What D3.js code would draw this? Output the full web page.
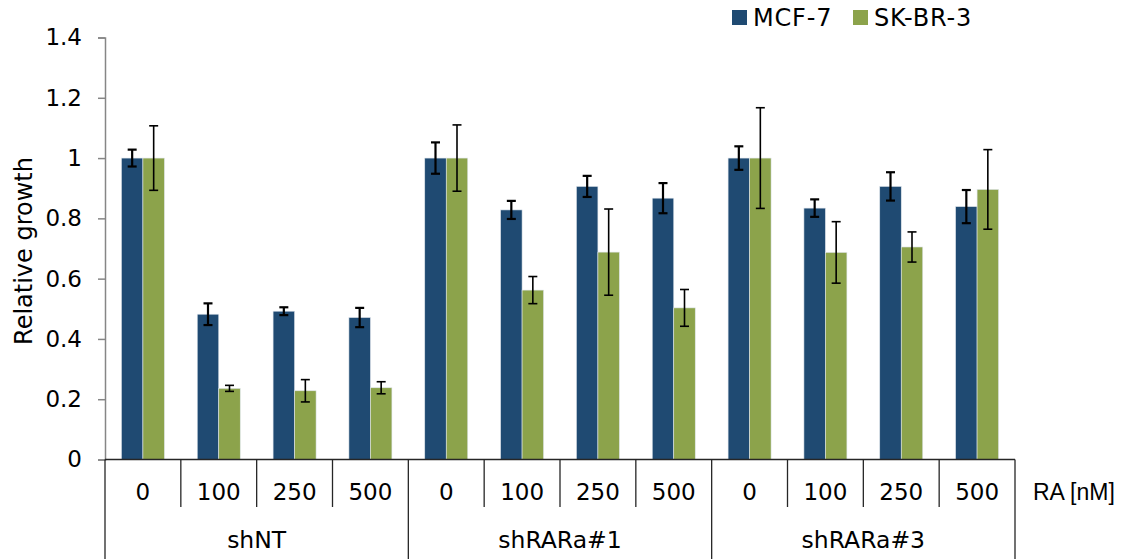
<!DOCTYPE html>
<html>
<head>
<meta charset="utf-8">
<script src="https://cdn.jsdelivr.net/npm/d3@7"></script>
<style>
  body { margin: 0; background: #fff; }
  text { font-family: "DejaVu Sans", Verdana, sans-serif; fill: #000; }
</style>
</head>
<body>
<div class="chart"></div>
<script>
// data
var groups = ["shNT", "shRARa#1", "shRARa#3"];
var doses = ["0", "100", "250", "500"];
var seriesNames = ["MCF-7", "SK-BR-3"];
var seriesColors = ["#1f4a72", "#8ca34b"];
var mcf7 = [1.0, 0.482, 0.492, 0.471, 1.0, 0.828, 0.906, 0.867, 1.0, 0.834, 0.906, 0.839];
var mcf7Err = [0.028, 0.036, 0.013, 0.032, 0.052, 0.03, 0.035, 0.05, 0.039, 0.029, 0.047, 0.055];
var skbr3 = [1.0, 0.236, 0.228, 0.238, 1.0, 0.562, 0.688, 0.503, 1.0, 0.687, 0.705, 0.896];
var skbr3Err = [0.107, 0.01, 0.037, 0.02, 0.11, 0.045, 0.143, 0.061, 0.167, 0.102, 0.05, 0.132];
var yTicks = [0, 0.2, 0.4, 0.6, 0.8, 1, 1.2, 1.4];

var width = 1131, height = 559;
var plotLeft = 105, plotRight = 1015, plotTop = 37.5, base = 459.5;

var svg = d3.select(".chart").append("svg")
    .attr("width", width)
    .attr("height", height);

var slots = [];
groups.forEach(function (g) {
    doses.forEach(function (d) { slots.push(g + "|" + d); });
});

var x = d3.scaleBand().domain(slots).range([plotLeft, plotRight]).padding(0);
var xInner = d3.scaleBand().domain(seriesNames).range([0, 43]);
var y = d3.scaleLinear().domain([0, 1.4]).range([base, plotTop]);

// y axis
var yAxis = svg.append("g")
    .attr("transform", "translate(" + plotLeft + ",0)")
    .call(d3.axisLeft(y).tickValues(yTicks).tickSize(7).tickPadding(16)
        .tickFormat(function (d) { return d3.format("")(+d.toFixed(1)); }));
yAxis.select(".domain").attr("stroke", "#868686").attr("stroke-width", 1.5);
yAxis.selectAll(".tick line").attr("stroke", "#868686").attr("stroke-width", 1.5);
yAxis.selectAll(".tick text").style("font-size", "23px").attr("fill", "#000")
    .style("font-family", "'DejaVu Sans', Verdana, sans-serif");

svg.append("text")
    .attr("transform", "translate(32," + 251 + ") rotate(-90)")
    .attr("text-anchor", "middle")
    .style("font-size", "24px")
    .text("Relative growth");

// bars
var rows = slots.map(function (s, i) {
    return { slot: s, values: [
        { name: seriesNames[0], v: mcf7[i], e: mcf7Err[i] },
        { name: seriesNames[1], v: skbr3[i], e: skbr3Err[i] }
    ] };
});

var slotG = svg.selectAll(".slot")
    .data(rows)
    .enter().append("g")
    .attr("class", "slot")
    .attr("transform", function (d) {
        return "translate(" + (x(d.slot) + x.bandwidth() / 2 - 21.5) + ",0)";
    });

slotG.selectAll("rect")
    .data(function (d) { return d.values; })
    .enter().append("rect")
    .attr("x", function (d) { return xInner(d.name); })
    .attr("width", xInner.bandwidth())
    .attr("y", function (d) { return y(d.v); })
    .attr("height", function (d) { return base - y(d.v); })
    .attr("fill", function (d, i) { return seriesColors[i]; })
    .attr("stroke", "#dfe5ec")
    .attr("stroke-width", 0.6);

// error bars
var err = slotG.selectAll(".err")
    .data(function (d) { return d.values; })
    .enter().append("g")
    .attr("class", "err")
    .attr("stroke", "#000")
    .attr("stroke-width", function (d, i) { return i === 0 ? 2.2 : 1.6; });

err.append("line")
    .attr("x1", function (d) { return xInner(d.name) + xInner.bandwidth() / 2; })
    .attr("x2", function (d) { return xInner(d.name) + xInner.bandwidth() / 2; })
    .attr("y1", function (d) { return y(d.v + d.e); })
    .attr("y2", function (d) { return y(d.v - d.e); });

[1, -1].forEach(function (sgn) {
    err.append("line")
        .attr("x1", function (d) { return xInner(d.name) + xInner.bandwidth() / 2 - 4.5; })
        .attr("x2", function (d) { return xInner(d.name) + xInner.bandwidth() / 2 + 4.5; })
        .attr("y1", function (d) { return y(d.v + sgn * d.e); })
        .attr("y2", function (d) { return y(d.v + sgn * d.e); });
});

// category axis
var cat = svg.append("g").attr("stroke", "#262626").attr("stroke-width", 1.3);
cat.append("line")
    .attr("x1", plotLeft).attr("x2", plotRight)
    .attr("y1", base).attr("y2", base);

slots.forEach(function (s, i) {
    var isGroupEdge = i % doses.length === 0;
    cat.append("line")
        .attr("x1", x(s)).attr("x2", x(s))
        .attr("y1", base).attr("y2", isGroupEdge ? height : 507);
});
cat.append("line")
    .attr("x1", plotRight).attr("x2", plotRight)
    .attr("y1", base).attr("y2", height);

svg.selectAll(".dose")
    .data(slots)
    .enter().append("text")
    .attr("class", "dose")
    .attr("x", function (d) { return x(d) + x.bandwidth() / 2; })
    .attr("y", 500)
    .attr("text-anchor", "middle")
    .style("font-size", "23px")
    .text(function (d) { return d.split("|")[1]; });

svg.selectAll(".grp")
    .data(groups)
    .enter().append("text")
    .attr("class", "grp")
    .attr("x", function (g) {
        return (x(g + "|" + doses[0]) + x(g + "|" + doses[3]) + x.bandwidth()) / 2;
    })
    .attr("y", 548)
    .attr("text-anchor", "middle")
    .style("font-size", "23.5px")
    .text(function (d) { return d; });

svg.append("text")
    .attr("x", 1033)
    .attr("y", 500)
    .style("font-family", "'Liberation Sans', Arial, sans-serif")
    .style("font-size", "23px")
    .attr("fill", "#595959")
    .text("RA [nM]");

// legend
var legend = svg.selectAll(".legend")
    .data(seriesNames)
    .enter().append("g")
    .attr("class", "legend")
    .attr("transform", function (d, i) { return "translate(" + (732 + i * 121) + ",0)"; });

legend.append("rect")
    .attr("x", 0).attr("y", 10)
    .attr("width", 15).attr("height", 15)
    .attr("fill", function (d, i) { return seriesColors[i]; });

legend.append("text")
    .attr("x", 21).attr("y", 26)
    .style("font-size", "24px")
    .style("letter-spacing", "0.8px")
    .text(function (d) { return d; });
</script>
</body>
</html>
